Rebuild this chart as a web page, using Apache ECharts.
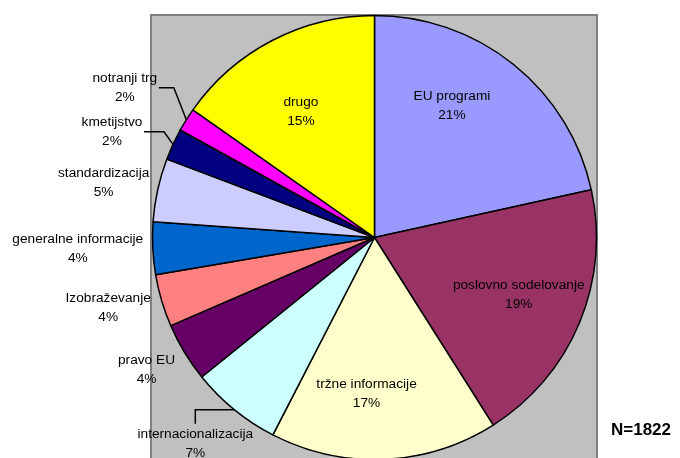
<!DOCTYPE html>
<html>
<head>
<meta charset="utf-8">
<script src="https://cdn.jsdelivr.net/npm/echarts@6/dist/echarts.min.js"></script>
<style>
  html, body { margin: 0; padding: 0; background: #fff; }
  #chart { width: 680px; height: 458px; }
</style>
</head>
<body>
<div id="chart"></div>
<script>
// Shares of enquiries by topic (percent), clockwise from 12 o'clock
const categories = [
  'EU programi',
  'poslovno sodelovanje',
  'tržne informacije',
  'internacionalizacija',
  'pravo EU',
  'Izobraževanje',
  'generalne informacije',
  'standardizacija',
  'kmetijstvo',
  'notranji trg',
  'drugo'
];
const shares = [21.49, 19.4, 16.5, 6.6, 4.3, 3.8, 3.8, 4.6, 2.3, 1.7, 15.2];
const sampleSize = 1822;

const sliceColors = [
  '#9999FF', '#993366', '#FFFFCC', '#CCFFFF', '#660066', '#FF8080',
  '#0066CC', '#CCCCFF', '#000080', '#FF00FF', '#FFFF00'
];

// Label placement per slice. 'in' labels are shifted from the default inside
// anchor, 'out' labels from the slice's outer edge point; 'guide' holds the
// leader-line bends relative to that edge point.
const labelPlacement = [
  { side: 'in',  dx: 6,     dy: -43 },
  { side: 'in',  dx: 39,    dy: 13.5 },
  { side: 'in',  dx: -13,   dy: 42 },
  { side: 'out', dx: -39,   dy: 34,    guide: [[-39, 0], [-39, 14]] },
  { side: 'out', dx: -38,   dy: 17 },
  { side: 'out', dx: -53.5, dy: 7 },
  { side: 'out', dx: -75,   dy: 0 },
  { side: 'out', dx: -54,   dy: -7.5 },
  { side: 'out', dx: -61,   dy: -12.5, guide: [[-9, -12.5], [-29, -12.5]] },
  { side: 'out', dx: -61.5, dy: -32,   guide: [[-12.5, -32], [-27.5, -32]] },
  { side: 'in',  dx: -21,   dy: -25 }
];

const chart = echarts.init(document.getElementById('chart'), null, { renderer: 'canvas' });

const pieData = categories.map((name, i) => {
  const pl = labelPlacement[i];
  return {
    name: name,
    value: shares[i],
    itemStyle: { color: sliceColors[i] },
    label: { position: pl.side === 'in' ? 'inside' : 'outside' },
    labelLine: {
      show: pl.side === 'out',
      length: 4,
      length2: 4,
      lineStyle: { color: pl.guide ? '#000' : 'rgba(0,0,0,0)', width: 1.5 }
    }
  };
});

chart.setOption({
  animation: false,
  backgroundColor: '#ffffff',
  title: {
    text: 'N=' + sampleSize,
    left: 611,
    top: 422,
    padding: 0,
    textStyle: {
      fontFamily: 'Liberation Sans, Arial, sans-serif',
      fontWeight: 'bold',
      fontSize: 17,
      color: '#000'
    }
  },
  graphic: [{
    type: 'rect',
    z: -10,
    silent: true,
    shape: { x: 151, y: 15, width: 446, height: 460 },
    style: { fill: '#C0C0C0', stroke: '#808080', lineWidth: 2 }
  }],
  series: [{
    type: 'pie',
    center: [374.5, 237.5],
    radius: 222,
    startAngle: 90,
    clockwise: true,
    avoidLabelOverlap: false,
    silent: true,
    emphasis: { disabled: true },
    itemStyle: { borderColor: '#000', borderWidth: 1.5 },
    label: {
      show: true,
      color: '#000',
      fontFamily: 'Liberation Sans, Arial, sans-serif',
      fontSize: 13.7,
      lineHeight: 19,
      overflow: 'none',
      formatter: p => p.name + '\n' + Math.round(p.value) + '%'
    },
    labelLayout: function (params) {
      const pl = labelPlacement[params.dataIndex];
      let ax, ay;
      if (pl.side === 'out' && params.labelLinePoints) {
        ax = params.labelLinePoints[0][0];
        ay = params.labelLinePoints[0][1];
      } else {
        ax = params.labelRect.x + params.labelRect.width / 2;
        ay = params.labelRect.y + params.labelRect.height / 2;
      }
      const res = {
        x: ax + pl.dx,
        y: ay + pl.dy,
        align: 'center',
        verticalAlign: 'middle'
      };
      if (pl.guide) {
        res.labelLinePoints = [[ax, ay]].concat(
          pl.guide.map(g => [ax + g[0], ay + g[1]])
        );
      }
      return res;
    },
    data: pieData
  }]
});
</script>
</body>
</html>
